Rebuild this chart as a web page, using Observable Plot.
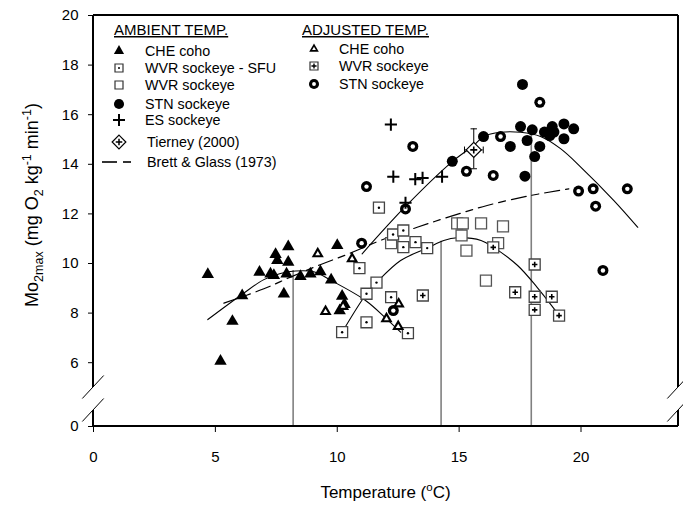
<!DOCTYPE html>
<html><head><meta charset="utf-8">
<script src="https://cdn.jsdelivr.net/npm/d3@7"></script>
<script src="https://cdn.jsdelivr.net/npm/@observablehq/plot@0.6"></script>
<style>
html,body{margin:0;padding:0;background:#fff;}
#chart{width:683px;height:506px;}
svg text{font-family:"Liberation Sans",Arial,sans-serif;}
</style></head><body><div id="chart"></div>
<script>
// ---------- data (temperature °C, MO2max) ----------
const cheAmbient = [[4.69,9.56],[5.21,6.06],[5.70,7.67],[6.10,8.70],[6.81,9.65],[7.26,9.58],[7.40,9.52],[7.47,10.37],[7.54,10.12],[7.81,8.77],[7.92,9.58],[7.99,10.68],[7.99,10.05],[8.49,9.48],[8.90,9.58],[9.31,9.67],[9.75,9.34],[10.0,10.73],[10.2,8.68],[10.1,8.1],[10.3,8.35]];
const cheAdjusted = [[9.2,10.39],[10.61,10.19],[9.52,8.06],[10.24,8.27],[12.02,7.77],[12.5,7.46],[12.52,8.37]];
const wvrSFU = [[11.71,12.25],[12.29,11.17],[12.71,11.33],[12.71,10.66],[13.21,10.86],[13.69,10.62],[10.91,9.81],[11.61,9.23],[11.2,8.78],[12.21,8.64],[11.2,7.63],[10.2,7.23],[12.9,7.19]];
const wvrAmbient = [[12.21,10.82],[14.92,11.62],[15.15,11.62],[15.9,11.62],[16.8,11.5],[15.1,11.13],[15.3,10.52],[16.6,10.82],[16.1,9.31]];
const wvrAdjusted = [[13.51,8.71],[16.4,10.65],[18.1,9.96],[17.3,8.84],[18.1,8.66],[18.8,8.66],[18.1,8.13],[19.1,7.9]];
const stnAmbient = [[14.72,14.12],[16.0,15.12],[17.1,14.72],[17.6,17.22],[17.52,15.52],[18.0,15.39],[17.79,14.96],[18.31,14.72],[18.1,14.31],[18.5,15.3],[18.82,15.52],[18.89,15.3],[19.3,15.63],[19.3,15.03],[19.7,15.43],[18.72,15.16],[17.7,13.52]];
const stnAdjusted = [[11.0,10.82],[11.2,13.1],[12.8,12.2],[12.3,8.1],[13.1,14.72],[15.3,13.72],[16.4,13.55],[16.7,15.12],[18.31,16.5],[19.9,12.92],[20.5,13.01],[20.6,12.31],[21.9,13.01],[20.9,9.72]];
const esSockeye = [[12.2,15.6],[12.3,13.5],[13.2,13.4],[13.5,13.45],[14.3,13.5],[12.8,12.45]];
const tierney = [{t:15.6, m:14.58, mLo:13.82, mHi:15.43, tLo:15.22, tHi:15.99}];

const cheCurve = [[4.69,7.74],[6.1,8.76],[6.99,9.35],[7.67,9.6],[8.29,9.7],[9.04,9.67],[9.72,9.33],[11.16,8.51],[12.02,7.77],[12.6,7.23]];
const wvrCurve = [[10.2,7.23],[11.2,8.78],[11.61,9.23],[12.6,10.12],[13.69,10.62],[14.37,10.93],[14.92,11.04],[15.9,10.93],[16.4,10.66],[17.4,9.92],[18.2,9.04],[18.97,8.08]];
const stnCurve = [[11.02,10.39],[12.8,12.3],[14.72,14.11],[15.6,14.76],[16.01,15.12],[16.7,15.29],[17.52,15.29],[18.34,15.12],[19.16,14.63],[20.0,13.88],[21.35,12.54],[22.33,11.46]];
const brettCurve = [[5.35,8.4],[6.99,8.98],[8.08,9.45],[9.3,9.95],[10.54,10.42],[11.77,10.93],[13.28,11.46],[14.65,11.9],[16.15,12.34],[17.93,12.74],[19.5,13.01]];
const toptT = [8.19, 14.26, 17.96];
const toptM = [9.72, 10.9, 15.2];

const xTicks = [0,5,10,15,20];
const yTicks = [0,6,8,10,12,14,16,18,20];
const xDomain = [0,24];
const yDomain = [0,5,20];

const ambientLabels = ["CHE coho","WVR sockeye - SFU","WVR sockeye","STN sockeye","ES sockeye","Tierney (2000)","Brett & Glass (1973)"];
const adjustedLabels = ["CHE coho","WVR sockeye","STN sockeye"];

// ---------- layout ----------
const W = 683, H = 506, mL = 93, mR = 5, mT = 15, mB = 80;
const pxPerUnit = 24.8;
const yBreakPx = mT + (yDomain[2] - yDomain[1]) * pxPerUnit;
const pts = arr => arr.map(([t, m]) => ({t, m}));
const topt = toptT.map((t, i) => ({t, m: toptM[i]}));

const hBar = {draw(ctx, size){ const r = Math.sqrt(size/Math.PI); ctx.moveTo(-r,0); ctx.lineTo(r,0); }};
const vBar = {draw(ctx, size){ const r = Math.sqrt(size/Math.PI); ctx.moveTo(0,-r); ctx.lineTo(0,r); }};

const P = {x:"t", y:"m"};
const plot = Plot.plot({
  width: W, height: H, marginLeft: mL, marginRight: mR, marginTop: mT, marginBottom: mB,
  style: {background:"white", fontFamily:"'Liberation Sans',Arial,sans-serif", overflow:"visible"},
  x: {domain: xDomain, label: null},
  y: {type:"linear", domain: yDomain, range: [H - mB, yBreakPx, mT], label: null},
  marks: [
    Plot.axisX({ticks: xTicks, tickSize: 6, tickPadding: 19, fontSize: 15, label: null}),
    Plot.axisY({ticks: yTicks, tickSize: 5, tickPadding: 10, fontSize: 15, label: null}),
    Plot.ruleX(topt, {x:"t", y1: 0, y2:"m", stroke:"#808080", strokeWidth:1.6}),
    Plot.line(pts(brettCurve), {...P, curve:"catmull-rom", stroke:"black", strokeWidth:1.2, strokeDasharray:"15,6,7,6"}),
    Plot.line(pts(cheCurve), {...P, curve:"catmull-rom", stroke:"black", strokeWidth:1.1}),
    Plot.line(pts(wvrCurve), {...P, curve:"catmull-rom", stroke:"black", strokeWidth:1.1}),
    Plot.line(pts(stnCurve), {...P, curve:"catmull-rom", stroke:"black", strokeWidth:1.1}),
    // WVR squares
    Plot.dot(pts(wvrAmbient), {...P, symbol:"square", r:6.2, fill:"white", stroke:"#555", strokeWidth:1.3}),
    Plot.dot(pts(wvrSFU), {...P, symbol:"square", r:6.2, fill:"white", stroke:"#444", strokeWidth:1.3}),
    Plot.dot(pts(wvrSFU), {...P, symbol:"circle", r:1.2, fill:"black"}),
    Plot.dot(pts(wvrAdjusted), {...P, symbol:"square", r:6.2, fill:"white", stroke:"#444", strokeWidth:1.3}),
    Plot.dot(pts(wvrAdjusted), {...P, symbol:"plus", r:1.9, stroke:"black", strokeWidth:1.6}),
    // CHE coho triangles
    Plot.dot(pts(cheAmbient), {...P, symbol:"triangle", r:4.6, fill:"black"}),
    Plot.dot(pts(cheAdjusted), {...P, symbol:"triangle", r:4.5, fill:"black"}),
    Plot.dot(pts(cheAdjusted), {...P, symbol:"triangle", r:1.8, fill:"white"}),
    // STN circles
    Plot.dot(pts(stnAmbient), {...P, symbol:"circle", r:5.5, fill:"black"}),
    Plot.dot(pts(stnAdjusted), {...P, symbol:"circle", r:5.5, fill:"black"}),
    Plot.dot(pts(stnAdjusted), {...P, symbol:"circle", r:2.2, fill:"white"}),
    // ES sockeye plus
    Plot.dot(pts(esSockeye), {...P, symbol:"plus", r:4, stroke:"black", strokeWidth:2}),
    // Tierney (2000)
    Plot.ruleX(tierney, {x:"t", y1:"mLo", y2:"mHi", stroke:"black", strokeWidth:1}),
    Plot.ruleY(tierney, {y:"m", x1:"tLo", x2:"tHi", stroke:"black", strokeWidth:1}),
    Plot.dot(tierney, {x:"t", y:"mLo", symbol:hBar, r:3.2, fill:"none", stroke:"black", strokeWidth:1}),
    Plot.dot(tierney, {x:"t", y:"mHi", symbol:hBar, r:3.2, fill:"none", stroke:"black", strokeWidth:1}),
    Plot.dot(tierney, {x:"tLo", y:"m", symbol:vBar, r:3.4, fill:"none", stroke:"black", strokeWidth:1}),
    Plot.dot(tierney, {x:"tHi", y:"m", symbol:vBar, r:3.4, fill:"none", stroke:"black", strokeWidth:1}),
    Plot.dot(tierney, {x:"t", y:"m", symbol:"diamond2", r:6.8, fill:"white", stroke:"black", strokeWidth:1.2}),
    Plot.dot(tierney, {x:"t", y:"m", symbol:"plus", r:2.4, stroke:"black", strokeWidth:1.6})
  ]
});
document.getElementById("chart").appendChild(plot);

// ---------- frame with broken axes, titles and legend ----------
const svg = d3.select(plot);
const sx = plot.scale("x"), sy = plot.scale("y");
const xL = sx.apply(xDomain[0]), xR = sx.apply(xDomain[1]);
const yTop = sy.apply(yDomain[2]), yBrk = sy.apply(yDomain[1]), yZero = sy.apply(yDomain[0]);
const yLowBrk = yBrk + 23;
const fr = svg.append("g").attr("stroke","black").attr("fill","none");
fr.append("line").attr("x1",xL).attr("x2",xR).attr("y1",yTop).attr("y2",yTop).attr("stroke-width",2);
fr.append("line").attr("x1",xL).attr("x2",xR).attr("y1",yZero).attr("y2",yZero).attr("stroke-width",2);
for (const xx of [xL, xR]) {
  fr.append("line").attr("x1",xx).attr("x2",xx).attr("y1",yTop).attr("y2",yBrk).attr("stroke-width",2);
  fr.append("line").attr("x1",xx).attr("x2",xx).attr("y1",yLowBrk).attr("y2",yZero).attr("stroke-width",2);
  for (const yy of [yBrk, yLowBrk]) {
    fr.append("line").attr("x1",xx-10.7).attr("x2",xx+10.7).attr("y1",yy+11.5).attr("y2",yy-11.5).attr("stroke-width",1);
  }
}

// axis titles
const xt = svg.append("text").attr("x",(xL+xR)/2).attr("y",498).attr("text-anchor","middle").attr("font-size",17).attr("fill","black");
xt.append("tspan").text("Temperature (");
xt.append("tspan").attr("dy",-7).attr("font-size",11.5).text("o");
xt.append("tspan").attr("dy",7).text("C)");

const yt = svg.append("text").attr("transform","translate(38,205) rotate(-90)").attr("text-anchor","middle").attr("font-size",18).attr("fill","black");
yt.append("tspan").text("Mo");
yt.append("tspan").attr("dy",4.5).attr("font-size",12.5).text("2max");
yt.append("tspan").attr("dy",-4.5).text(" (mg O");
yt.append("tspan").attr("dy",4.5).attr("font-size",12.5).text("2");
yt.append("tspan").attr("dy",-4.5).text(" kg");
yt.append("tspan").attr("dy",-7).attr("font-size",12.5).text("-1");
yt.append("tspan").attr("dy",7).text(" min");
yt.append("tspan").attr("dy",-7).attr("font-size",12.5).text("-1");
yt.append("tspan").attr("dy",7).text(")");

// legend
const lg = svg.append("g").attr("font-size",14.3).attr("fill","black").attr("text-anchor","start");
const sym = (type, size, x, y, attrs) => {
  const p = lg.append("path").attr("d", d3.symbol(type, size)()).attr("transform", `translate(${x},${y})`);
  for (const k in attrs) p.attr(k, attrs[k]);
  return p;
};
lg.append("text").attr("x",114).attr("y",35).attr("font-size",15).attr("text-anchor","start").attr("text-decoration","underline").text("AMBIENT TEMP.");
lg.append("text").attr("x",302).attr("y",35).attr("font-size",15).attr("text-anchor","start").attr("text-decoration","underline").text("ADJUSTED TEMP.");
const ambRows = [51, 68, 85, 104, 120, 142, 162];
const adjRows = [49, 66, 84];
ambientLabels.forEach((s, i) => lg.append("text").attr("text-anchor","start").attr("x", i >= 5 ? 147 : 145).attr("y", ambRows[i] + 5).text(s));
adjustedLabels.forEach((s, i) => lg.append("text").attr("text-anchor","start").attr("x", 339).attr("y", adjRows[i] + 5).text(s));
const sx0 = 119;
sym(d3.symbolTriangle, 45, sx0, ambRows[0], {fill:"black"});
sym(d3.symbolSquare, 64, sx0, ambRows[1], {fill:"white", stroke:"#333", "stroke-width":1.2});
sym(d3.symbolCircle, 3, sx0, ambRows[1], {fill:"black"});
sym(d3.symbolSquare, 64, sx0, ambRows[2], {fill:"white", stroke:"#333", "stroke-width":1.2});
sym(d3.symbolCircle, 80, sx0, ambRows[3], {fill:"black"});
sym(d3.symbolPlus, 49, sx0, ambRows[4], {fill:"none", stroke:"black", "stroke-width":2});
sym(d3.symbolDiamond2, 120, sx0, ambRows[5], {fill:"white", stroke:"black", "stroke-width":1.2});
sym(d3.symbolPlus, 16, sx0, ambRows[5], {fill:"none", stroke:"black", "stroke-width":1.5});
lg.append("line").attr("x1",102).attr("x2",117).attr("y1",ambRows[6]).attr("y2",ambRows[6]).attr("stroke","black").attr("stroke-width",1.6);
lg.append("line").attr("x1",123).attr("x2",131).attr("y1",ambRows[6]).attr("y2",ambRows[6]).attr("stroke","black").attr("stroke-width",1.6);
const ax0 = 314;
sym(d3.symbolTriangle, 40, ax0, adjRows[0], {fill:"black"});
sym(d3.symbolTriangle, 6, ax0, adjRows[0], {fill:"white"});
sym(d3.symbolSquare, 64, ax0, adjRows[1], {fill:"white", stroke:"#333", "stroke-width":1.2});
sym(d3.symbolPlus, 10, ax0, adjRows[1], {fill:"none", stroke:"black", "stroke-width":1.4});
sym(d3.symbolCircle, 80, ax0, adjRows[2], {fill:"black"});
sym(d3.symbolCircle, 12, ax0, adjRows[2], {fill:"white"});
</script></body></html>
